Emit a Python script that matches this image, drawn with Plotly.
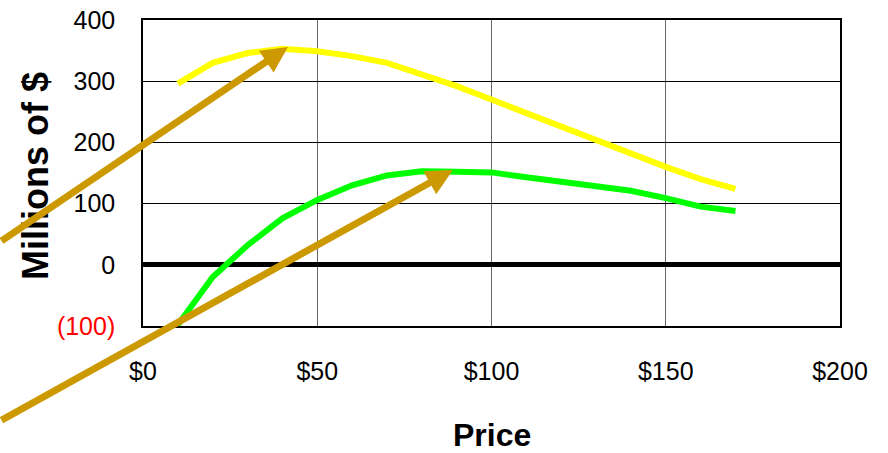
import plotly.graph_objects as go

# Data
price = [10, 20, 30, 40, 50, 60, 70, 80, 90, 100, 110, 120, 130, 140, 150, 160, 170]
yellow_vals = [296, 330, 346, 353, 349, 341, 330, 312, 292, 270, 248, 224, 204, 180, 160, 140, 124]
green_vals = [-98, -20, 32, 76, 106, 130, 146, 153, 152, 151, 143, 135, 128, 121, 109, 95, 88]

x_ticks = [0, 50, 100, 150, 200]
x_labels = ["$0", "$50", "$100", "$150", "$200"]
y_ticks = [-100, 0, 100, 200, 300, 400]
y_labels = ["<span style='color:#FF0000'>(100)</span>", "0", "100", "200", "300", "400"]

FONT = "Liberation Sans, Arial, sans-serif"
GOLD = "#CC9900"

fig = go.Figure()
fig.add_trace(go.Scatter(x=price, y=yellow_vals, mode="lines",
                         line=dict(color="#FFFF00", width=6), showlegend=False))
fig.add_trace(go.Scatter(x=price, y=green_vals, mode="lines",
                         line=dict(color="#00FF00", width=6), showlegend=False))

fig.update_layout(
    width=888, height=453,
    margin=dict(l=143, r=48, t=20, b=127),
    paper_bgcolor="white", plot_bgcolor="white",
    font=dict(family=FONT, size=25, color="black"),
    xaxis=dict(range=[0, 200], tickvals=x_ticks, ticktext=x_labels,
               showgrid=True, gridcolor="#666666", gridwidth=1.2,
               showline=True, mirror=True, linecolor="black", linewidth=1.5,
               zeroline=False, ticks="", ticklabelstandoff=22, automargin=False,
               tickfont=dict(family=FONT, size=25)),
    yaxis=dict(range=[-100, 400], tickvals=y_ticks, ticktext=y_labels,
               showgrid=True, gridcolor="black", gridwidth=1,
               showline=True, mirror=True, linecolor="black", linewidth=1.5,
               zeroline=True, zerolinecolor="black", zerolinewidth=4.5,
               ticks="", ticklabelstandoff=21, automargin=False,
               tickfont=dict(family=FONT, size=25)),
)

# Axis titles
fig.add_annotation(text="<b>Price</b>", xref="paper", yref="paper", x=0.5, y=-0.356,
                   xanchor="center", yanchor="middle", showarrow=False,
                   font=dict(family=FONT, size=32, color="black"))
fig.add_annotation(text="<b>Millions of $</b>", xref="paper", yref="paper", x=-0.155, y=0.49,
                   xanchor="center", yanchor="middle", textangle=-90, showarrow=False,
                   font=dict(family=FONT, size=36, color="black"))

# Gold arrows
fig.add_annotation(text="", x=41.6, y=356, xref="x", yref="y", ax=-298, ay=195,
                   showarrow=True, arrowhead=2, arrowsize=0.75, arrowwidth=7,
                   arrowcolor=GOLD, standoff=0)
fig.add_annotation(text="", x=88.9, y=155, xref="x", yref="y", ax=-463, ay=251,
                   showarrow=True, arrowhead=2, arrowsize=0.75, arrowwidth=7,
                   arrowcolor=GOLD, standoff=0)

fig.write_html("out.html")
